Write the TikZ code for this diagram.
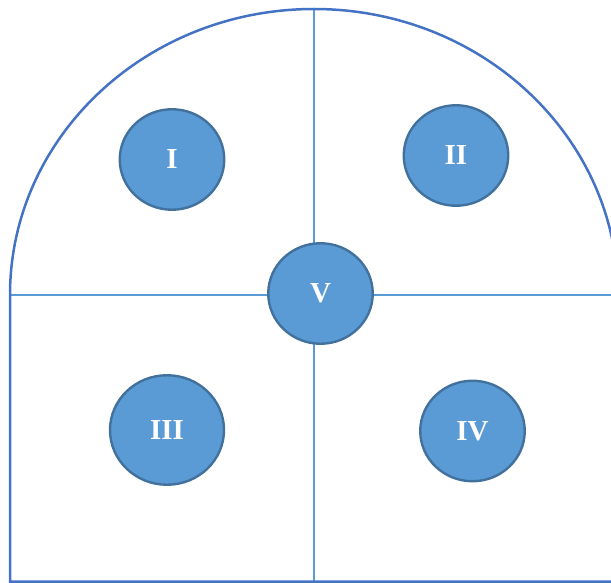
\documentclass[tikz,border=0pt]{standalone}
\usepackage{fontspec}
\setmainfont{Liberation Serif}
\usetikzlibrary{shapes.geometric, math}
\definecolor{myblue}{RGB}{68,114,196}
\definecolor{mylightblue}{RGB}{91,155,213}
\definecolor{mydarkblue}{RGB}{65,113,156}

\begin{document}
\begin{tikzpicture}[x=1pt,y=-1pt,
 zone/.style={ellipse, draw=mydarkblue, line width=2.4pt, fill=mylightblue, text=white,
  font=\bfseries\fontsize{29}{29}\selectfont, inner sep=0pt,
  minimum width=104.5pt, minimum height=100.5pt}]
\tikzmath{
\cx=314;
\cy=295;
}
\useasboundingbox (0,0) rectangle (611,583);
\clip (0,0) rectangle (611,583);

 %cross lines
 \draw[line width=1.4pt, color=mylightblue] (10,\cy) -- (620,\cy);
 \draw[line width=1.4pt, color=mylightblue] (\cx,9) -- (\cx,581);

 %outline
 \draw[line width=2.5pt, color=myblue] (\cx+304,\cy) arc[start angle=0, end angle=-180, x radius=304, y radius=286] -- (10,581.5) -- (\cx+304,581.5) -- cycle;

 %zones
 \node[zone] (I) at (172,159.5) {I};
 \node[zone] (II) at (456,155.5) {II};
 \node[zone, minimum width=114pt, minimum height=109.5pt] (III) at (167,430) {III};
 \node[zone] (IV) at (472.5,431) {IV};
 \node[zone] (V) at (320.5,293.5) {V};

\end{tikzpicture}
\end{document}
